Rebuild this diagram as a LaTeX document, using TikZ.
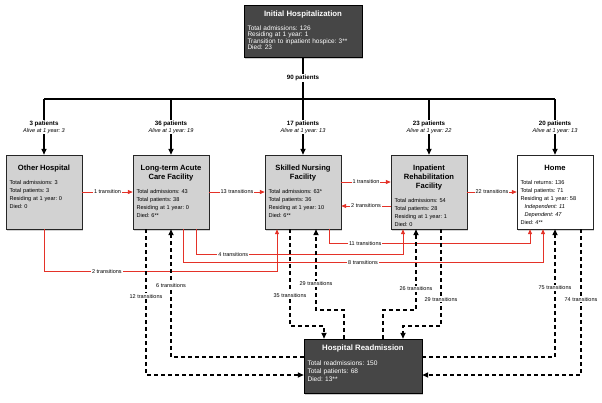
\documentclass[tikz,border=0pt]{standalone}
\usepackage{fontspec}
\setmainfont{Liberation Sans}
\usepackage{tikz}
\usetikzlibrary{arrows.meta, shadows}
\definecolor{unitgray}{RGB}{210,210,210}
\definecolor{hubgray}{RGB}{70,70,70}
\definecolor{movered}{RGB}{228,50,40}
\newcommand{\unittitle}[1]{{\fontsize{7.6}{9}\selectfont\bfseries\centering #1\par}\vspace{6pt}}
\newcommand{\hubtitle}[2]{{\fontsize{7.8}{9}\selectfont\bfseries\centering #1\par}\vspace{#2}}
\frenchspacing

\begin{document}
\begin{tikzpicture}[x=1pt, y=-1pt,
            unit/.style={draw=black!85, fill=unitgray, drop shadow={opacity=0.35, shadow xshift=1pt, shadow yshift=-1.5pt}, text width=69pt, inner xsep=3.5pt, inner ysep=3pt, text height=12pt, text depth=56pt, align=left, font=\fontsize{5.6}{8}\selectfont},
            hub/.style={draw=black, fill=hubgray, text=white, drop shadow={opacity=0.4, shadow xshift=1pt, shadow yshift=-1.5pt}, text width=111pt, inner xsep=3.5pt, inner ysep=3pt, text height=8pt, align=left},
            tag/.style={fill=white, text=black, inner sep=1pt, font=\fontsize{5.5}{7}\selectfont},
            count/.style={fill=white, inner sep=1pt, align=center, font=\fontsize{6.2}{7}\selectfont},
            treeline/.style={line width=1.6pt},
            treearrow/.style={treeline, -{Triangle[length=6pt, width=5pt]}},
            move/.style={movered, line width=0.8pt, -{Triangle[length=5pt, width=4pt]}},
            readline/.style={line width=1.7pt, dash pattern=on 4pt off 3pt, -{Triangle[length=6pt, width=5pt]}}]

            \useasboundingbox (0,0) rectangle (602,402);

            \node[hub, text depth=38pt, font=\fontsize{6.5}{6.5}\selectfont] (init) at (303,31) {\hubtitle{Initial Hospitalization}{7.5pt}Total admissions: 126\\Residing at 1 year: 1\\Transition to inpatient hospice: 3**\\Died: 23};

            \node[unit] (oh) at (44,192) {\unittitle{Other Hospital}Total admissions: 3\\Total patients: 3\\Residing at 1 year: 0\\Died: 0};
            \node[unit] (ltac) at (171,192) {\unittitle{Long-term Acute\\Care Facility}Total admissions: 43\\Total patients: 38\\Residing at 1 year: 0\\Died: 6**};
            \node[unit] (snf) at (303,192) {\unittitle{Skilled Nursing\\Facility}Total admissions: 63*\\Total patients: 36\\Residing at 1 year: 10\\Died: 6**};
            \node[unit] (irf) at (429,192) {\unittitle{Inpatient\\Rehabilitation\\Facility}Total admissions: 54\\Total patients: 28\\Residing at 1 year: 1\\Died: 0};
            \node[unit, fill=white] (home) at (555,192) {\unittitle{Home}Total returns: 136\\Total patients: 71\\Residing at 1 year: 58\\\hspace*{4pt}\textit{Independent: 11}\\\hspace*{4pt}\textit{Dependent: 47}\\Died: 4**};

            \node[hub, text depth=40pt, font=\fontsize{6.6}{8}\selectfont] (readm) at (363,366) {\hubtitle{Hospital Readmission}{7.5pt}Total readmissions: 150\\Total patients: 68\\Died: 13**};

            \coordinate (split) at (303,99);
            \draw[treeline] (init) -- node[count]{\textbf{90 patients}} (split);
            \draw[treeline] (oh.north |- split) -- (home.north |- split);
            \draw[treearrow] (oh.north |- split) -- node[count]{\textbf{3 patients}\\\fontsize{5.6}{7}\selectfont\itshape Alive at 1 year: 3} (oh.north);
            \draw[treearrow] (ltac.north |- split) -- node[count]{\textbf{36 patients}\\\fontsize{5.6}{7}\selectfont\itshape Alive at 1 year: 19} (ltac.north);
            \draw[treearrow] (snf.north |- split) -- node[count]{\textbf{17 patients}\\\fontsize{5.6}{7}\selectfont\itshape Alive at 1 year: 13} (snf.north);
            \draw[treearrow] (irf.north |- split) -- node[count]{\textbf{23 patients}\\\fontsize{5.6}{7}\selectfont\itshape Alive at 1 year: 22} (irf.north);
            \draw[treearrow] (home.north |- split) -- node[count]{\textbf{20 patients}\\\fontsize{5.6}{7}\selectfont\itshape Alive at 1 year: 13} (home.north);

            \draw[move] (oh) -- node[tag]{1 transition} (ltac);
            \draw[move] (ltac) -- node[tag]{13 transitions} (snf);
            \draw[move] ([yshift=10pt]snf.east) -- node[tag]{1 transition} ([yshift=10pt]irf.west);
            \draw[move] ([yshift=-14pt]irf.west) -- node[tag]{2 transitions} ([yshift=-14pt]snf.east);
            \draw[move] (irf) -- node[tag]{22 transitions} (home);

            \draw[move] (oh.south) -- ++(0,42) -| node[tag, pos=0.135]{2 transitions} ([xshift=-26pt]snf.south);
            \draw[move] ([xshift=25pt]ltac.south) -- ++(0,25) -| node[tag, pos=0.09]{4 transitions} ([xshift=-26pt]irf.south);
            \draw[move] ([xshift=12pt]ltac.south) -- ++(0,33) -| node[tag, pos=0.25]{8 transitions} ([xshift=-12pt]home.south);
            \draw[move] ([xshift=26pt]snf.south) -- ++(0,14) -| node[tag, pos=0.09]{11 transitions} ([xshift=-25pt]home.south);

            \draw[readline] ([xshift=-25pt]ltac.south) |- node[tag, pos=0.23]{12 transitions} ([yshift=-9pt]readm.west);
            \draw[readline] ([yshift=9pt]readm.west) -| node[tag, pos=0.78]{6 transitions} (ltac.south);
            \draw[readline] ([xshift=-13pt]snf.south) -- node[tag, pos=0.68]{35 transitions} ++(0,97) -| ([xshift=-39pt]readm.north);
            \draw[readline] ([xshift=-19pt]readm.north) -- ++(0,-29) -| node[tag, pos=0.66]{29 transitions} ([xshift=13pt]snf.south);
            \draw[readline] ([xshift=20pt]readm.north) -- ++(0,-29) -| node[tag, pos=0.63]{26 transitions} ([xshift=-13pt]irf.south);
            \draw[readline] ([xshift=12pt]irf.south) -- node[tag, pos=0.72]{29 transitions} ++(0,97) -| ([xshift=40pt]readm.north);
            \draw[readline] ([yshift=9pt]readm.east) -| node[tag, pos=0.77]{75 transitions} (home.south);
            \draw[readline] ([xshift=26pt]home.south) |- node[tag, pos=0.24]{74 transitions} ([yshift=-9pt]readm.east);
        \end{tikzpicture}
\end{document}
